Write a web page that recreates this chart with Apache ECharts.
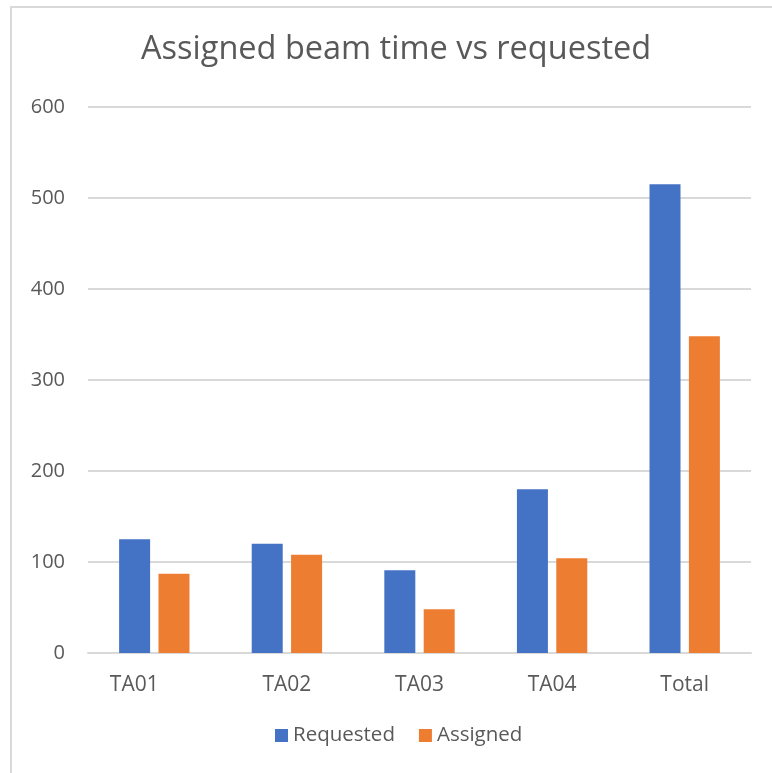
<!DOCTYPE html>
<html>
<head>
<meta charset="utf-8">
<script src="https://cdn.jsdelivr.net/npm/echarts@6/dist/echarts.min.js"></script>
<style>html,body{margin:0;padding:0;background:#fff}#c{width:772px;height:773px}</style>
</head>
<body>
<div id="c"></div>
<script>
var categories = ['TA01', 'TA02', 'TA03', 'TA04', 'Total'];
var requested = [125, 120, 91, 180, 515];
var assigned = [87, 108, 48, 104, 348];
var yTicks = [0, 100, 200, 300, 400, 500, 600];

var chart = echarts.init(document.getElementById('c'), null, {renderer: 'canvas'});
var font = '"Open Sans", "Noto Sans", sans-serif';
chart.setOption({
  animation: false,
  backgroundColor: '#fff',
  title: {
    text: 'Assigned beam time vs requested',
    left: 136, top: 28,
    textStyle: {fontFamily: font, fontSize: 32.5, fontWeight: 'normal', color: '#595959'}
  },
  legend: {
    data: ['Requested', 'Assigned'],
    bottom: 22, left: 270,
    icon: 'rect', itemWidth: 13, itemHeight: 13, itemGap: 24,
    textStyle: {fontFamily: font, fontSize: 20.5, color: '#595959'}
  },
  grid: {left: 88, right: 21, top: 107, bottom: 120, containLabel: false},
  xAxis: {
    type: 'category', data: categories,
    axisTick: {show: false},
    axisLine: {lineStyle: {color: '#d9d9d9', width: 2}},
    axisLabel: {
      margin: 22, fontFamily: font, fontSize: 21, color: '#595959',
      formatter: function (v, i) { return i === 0 ? '{a|' + v + '}' : v; },
      rich: {a: {fontFamily: font, fontSize: 21, color: '#595959', padding: [0, 40, 0, 0]}}
    }
  },
  yAxis: {
    type: 'value', min: yTicks[0], max: yTicks[yTicks.length - 1], interval: 100,
    axisLine: {show: false}, axisTick: {show: false},
    splitLine: {lineStyle: {color: '#d9d9d9', width: 2}},
    axisLabel: {margin: 23, fontFamily: font, fontSize: 20, color: '#595959'}
  },
  series: [
    {name: 'Requested', type: 'bar', data: requested, barWidth: 31, barGap: '27%',
     itemStyle: {color: '#4472C4'}},
    {name: 'Assigned', type: 'bar', data: assigned, barWidth: 31,
     itemStyle: {color: '#ED7D31'}}
  ],
  graphic: [
    {type: 'line', shape: {x1: 10, y1: 7, x2: 772, y2: 7}, style: {stroke: '#d9d9d9', lineWidth: 2}},
    {type: 'line', shape: {x1: 11, y1: 7, x2: 11, y2: 773}, style: {stroke: '#d9d9d9', lineWidth: 2}}
  ]
});
</script>
</body>
</html>
